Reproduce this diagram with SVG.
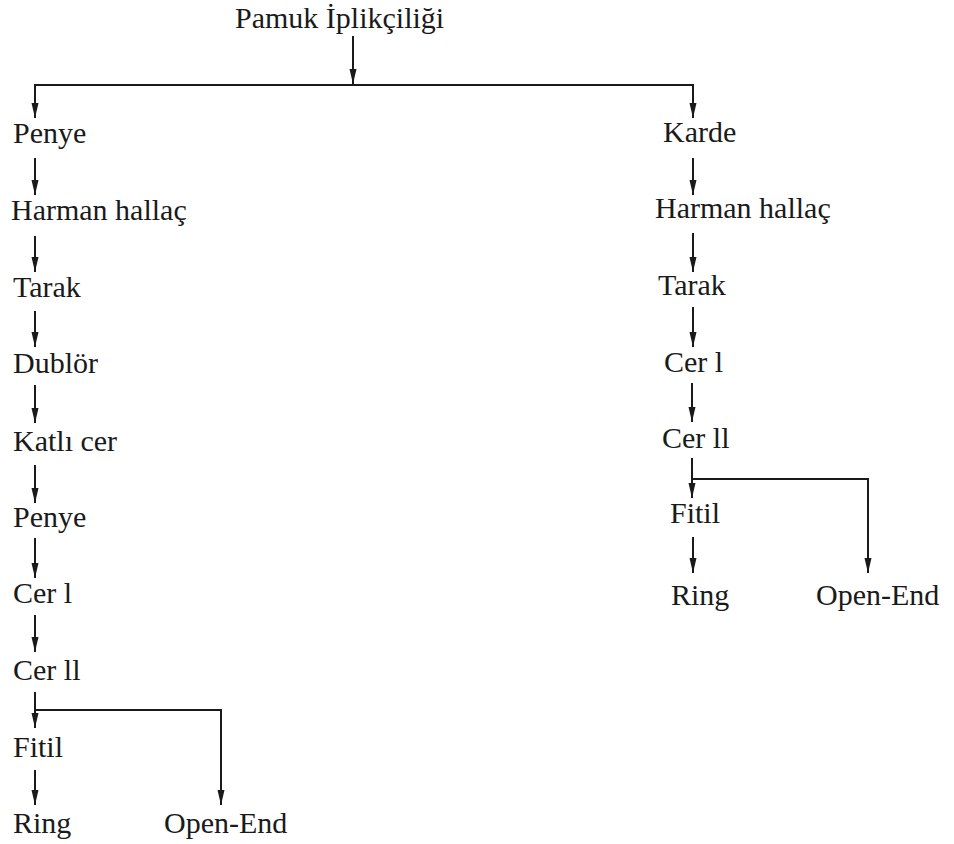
<svg xmlns="http://www.w3.org/2000/svg" width="954" height="844" viewBox="0 0 954 844">
<style>
text{font-family:"Liberation Serif","Times New Roman",serif;font-size:30px;fill:#1a1a1a}
.c line,.c polyline{stroke:#1a1a1a;stroke-width:2;fill:none}
</style>
<defs>
<marker id="ah" markerUnits="userSpaceOnUse" markerWidth="16" markerHeight="10" refX="15" refY="5" orient="auto">
<path d="M0,1.5 L15,5 L0,8.5 z" fill="#1a1a1a"/>
</marker>
</defs>
<rect width="954" height="844" fill="#fff"/>
<g class="c" id="connectors">
<line x1="353" y1="36" x2="353" y2="84" marker-end="url(#ah)"/>
<polyline points="35,118 35,85 693,85 693,118" />
<line x1="35" y1="100" x2="35" y2="118" marker-end="url(#ah)"/>
<line x1="693" y1="100" x2="693" y2="118" marker-end="url(#ah)"/>
<line x1="35" y1="158" x2="35" y2="195" marker-end="url(#ah)"/>
<line x1="35" y1="236" x2="35" y2="272" marker-end="url(#ah)"/>
<line x1="35" y1="311" x2="35" y2="347" marker-end="url(#ah)"/>
<line x1="35" y1="385" x2="35" y2="423" marker-end="url(#ah)"/>
<line x1="35" y1="465" x2="35" y2="503" marker-end="url(#ah)"/>
<line x1="35" y1="538" x2="35" y2="578" marker-end="url(#ah)"/>
<line x1="35" y1="615" x2="35" y2="652" marker-end="url(#ah)"/>
<line x1="35" y1="692" x2="35" y2="728" marker-end="url(#ah)"/>
<polyline points="35,710 221,710 221,805"/>
<line x1="221" y1="780" x2="221" y2="805" marker-end="url(#ah)"/>
<line x1="35" y1="770" x2="35" y2="805" marker-end="url(#ah)"/>
<line x1="693" y1="158" x2="693" y2="195" marker-end="url(#ah)"/>
<line x1="693" y1="233" x2="693" y2="272" marker-end="url(#ah)"/>
<line x1="693" y1="307" x2="693" y2="347" marker-end="url(#ah)"/>
<line x1="692" y1="383" x2="692" y2="422" marker-end="url(#ah)"/>
<line x1="692" y1="458" x2="692" y2="498" marker-end="url(#ah)"/>
<polyline points="692,479 868,479 868,573"/>
<line x1="868" y1="550" x2="868" y2="573" marker-end="url(#ah)"/>
<line x1="693" y1="537" x2="693" y2="573" marker-end="url(#ah)"/>
</g>
<g id="n-root"><text x="235" y="28">Pamuk İplikçiliği</text></g>
<g id="n-penye1"><text x="13" y="143">Penye</text></g>
<g id="n-harman1"><text x="11" y="220">Harman hallaç</text></g>
<g id="n-tarak1"><text x="13" y="297">Tarak</text></g>
<g id="n-dublor"><text x="13" y="373">Dublör</text></g>
<g id="n-katli"><text x="13" y="451">Katlı cer</text></g>
<g id="n-penye2"><text x="13" y="527">Penye</text></g>
<g id="n-cer1a"><text x="13" y="603">Cer l</text></g>
<g id="n-cer2a"><text x="13" y="680">Cer ll</text></g>
<g id="n-fitil1"><text x="13" y="757">Fitil</text></g>
<g id="n-ring1"><text x="13" y="833">Ring</text></g>
<g id="n-oe1"><text x="164" y="833">Open-End</text></g>
<g id="n-karde"><text x="663" y="142">Karde</text></g>
<g id="n-harman2"><text x="655" y="218">Harman hallaç</text></g>
<g id="n-tarak2"><text x="658" y="295">Tarak</text></g>
<g id="n-cer1b"><text x="664" y="372">Cer l</text></g>
<g id="n-cer2b"><text x="662" y="448">Cer ll</text></g>
<g id="n-fitil2"><text x="670" y="523">Fitil</text></g>
<g id="n-ring2"><text x="671" y="605">Ring</text></g>
<g id="n-oe2"><text x="816" y="605">Open-End</text></g>
</svg>
